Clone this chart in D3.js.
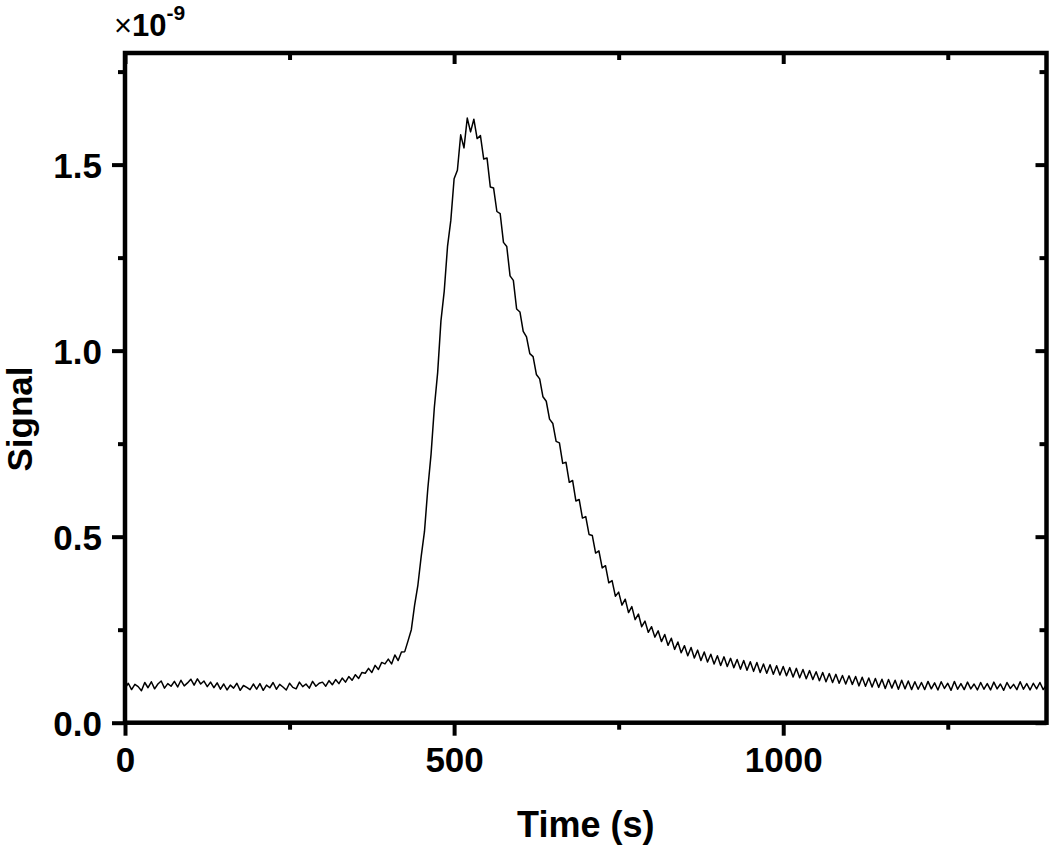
<!DOCTYPE html>
<html>
<head>
<meta charset="utf-8">
<script src="https://cdn.jsdelivr.net/npm/d3@7"></script>
<style>
  html, body { margin: 0; padding: 0; background: #fff; }
  svg { display: block; }
  text { font-family: "Liberation Sans", Arial, sans-serif; fill: #000; }
</style>
</head>
<body>
<svg id="chart" width="1050" height="846"></svg>
<script>
// ---- Data (signal in units of 1e-9, sampled every 5 s) ----
const timeStep = 5;
const signal_0000 = [0.092, 0.106, 0.089, 0.103, 0.097, 0.086, 0.108, 0.094, 0.110, 0.091, 0.104, 0.112, 0.093, 0.105, 0.098, 0.111, 0.096, 0.114, 0.099, 0.107];
const signal_0100 = [0.117, 0.101, 0.118, 0.104, 0.112, 0.097, 0.109, 0.094, 0.107, 0.090, 0.104, 0.088, 0.101, 0.093, 0.106, 0.087, 0.100, 0.095, 0.089, 0.104];
const signal_0200 = [0.090, 0.105, 0.087, 0.101, 0.094, 0.108, 0.090, 0.103, 0.096, 0.088, 0.106, 0.095, 0.091, 0.109, 0.097, 0.104, 0.093, 0.111, 0.098, 0.106];
const signal_0300 = [0.109, 0.098, 0.113, 0.102, 0.116, 0.105, 0.120, 0.109, 0.124, 0.114, 0.129, 0.119, 0.135, 0.133, 0.146, 0.135, 0.154, 0.143, 0.162, 0.158];
const signal_0400 = [0.171, 0.158, 0.182, 0.167, 0.190, 0.191, 0.220, 0.250, 0.316, 0.370, 0.447, 0.514, 0.628, 0.722, 0.848, 0.941, 1.080, 1.160, 1.280, 1.350];
const signal_0500 = [1.462, 1.485, 1.580, 1.545, 1.625, 1.588, 1.622, 1.570, 1.578, 1.515, 1.518, 1.440, 1.437, 1.374, 1.368, 1.291, 1.280, 1.201, 1.189, 1.112];
const signal_0600 = [1.104, 1.052, 1.037, 0.992, 0.984, 0.936, 0.924, 0.876, 0.864, 0.816, 0.804, 0.756, 0.752, 0.697, 0.700, 0.646, 0.651, 0.596, 0.600, 0.550];
const signal_0700 = [0.554, 0.506, 0.503, 0.456, 0.462, 0.416, 0.422, 0.376, 0.382, 0.340, 0.351, 0.316, 0.332, 0.296, 0.312, 0.277, 0.292, 0.258, 0.273, 0.243];
const signal_0800 = [0.258, 0.230, 0.247, 0.218, 0.237, 0.208, 0.227, 0.197, 0.217, 0.188, 0.207, 0.180, 0.202, 0.174, 0.195, 0.167, 0.190, 0.163, 0.184, 0.158];
const signal_0900 = [0.180, 0.154, 0.177, 0.151, 0.173, 0.148, 0.170, 0.144, 0.167, 0.141, 0.164, 0.138, 0.162, 0.135, 0.158, 0.133, 0.156, 0.130, 0.153, 0.128];
const signal_1000 = [0.151, 0.126, 0.148, 0.123, 0.146, 0.121, 0.143, 0.118, 0.140, 0.116, 0.137, 0.113, 0.135, 0.110, 0.132, 0.108, 0.130, 0.106, 0.127, 0.104];
const signal_1100 = [0.126, 0.103, 0.124, 0.099, 0.122, 0.098, 0.120, 0.096, 0.119, 0.095, 0.117, 0.092, 0.116, 0.093, 0.114, 0.090, 0.114, 0.091, 0.112, 0.089];
const signal_1200 = [0.110, 0.090, 0.108, 0.089, 0.111, 0.091, 0.107, 0.088, 0.110, 0.092, 0.106, 0.087, 0.111, 0.090, 0.105, 0.089, 0.109, 0.091, 0.104, 0.088];
const signal_1300 = [0.108, 0.090, 0.105, 0.088, 0.109, 0.091, 0.104, 0.087, 0.108, 0.092, 0.103, 0.089, 0.110, 0.090, 0.105, 0.088, 0.106, 0.091, 0.108, 0.089, 0.102];

const xMajorTicks = [0, 500, 1000];
const xMinorTicks = [250, 750, 1250];
const yMajorTicks = [0.0, 0.5, 1.0, 1.5];
const yMinorTicks = [0.25, 0.75, 1.25, 1.75];
const xDomain = [0, 1400];
const yDomain = [0, 1.8];
const xTitle = "Time (s)";
const yTitle = "Signal";
const multiplierExp = "-9";

// ---- Build series ----
const signalAll = [].concat(signal_0000, signal_0100, signal_0200, signal_0300, signal_0400,
  signal_0500, signal_0600, signal_0700, signal_0800, signal_0900, signal_1000,
  signal_1100, signal_1200, signal_1300);
const data = signalAll.map((v, i) => ({ t: i * timeStep, v: v }));

// ---- Layout ----
const pL = 125, pR = 1046.5, pT = 53, pB = 722.7;
const svg = d3.select("#chart");
const x = d3.scaleLinear().domain(xDomain).range([pL, pR]);
const y = d3.scaleLinear().domain(yDomain).range([pB, pT]);

// data line
const line = d3.line().x(d => x(d.t)).y(d => y(d.v));
svg.append("path").datum(data)
  .attr("d", line)
  .attr("fill", "none")
  .attr("stroke", "#000")
  .attr("stroke-width", 1.5)
  .attr("stroke-linejoin", "round");

const AX_W = 4.5, MAJ = 13, MIN = 7, TW = 4;
const fmtY = d3.format(".1f");

// bottom axis (outward ticks)
const gB = svg.append("g").attr("transform", `translate(0,${pB})`)
  .call(d3.axisBottom(x).tickValues(xMajorTicks).tickSize(MAJ).tickPadding(11).tickFormat(d3.format("d")));
const gBm = svg.append("g").attr("transform", `translate(0,${pB})`)
  .call(d3.axisBottom(x).tickValues(xMinorTicks).tickSize(MIN).tickFormat(""));
// top axis (inward ticks)
const gT = svg.append("g").attr("transform", `translate(0,${pT})`)
  .call(d3.axisBottom(x).tickValues(xMajorTicks).tickSize(MAJ - 2).tickFormat(""));
const gTm = svg.append("g").attr("transform", `translate(0,${pT})`)
  .call(d3.axisBottom(x).tickValues(xMinorTicks).tickSize(MIN).tickFormat(""));
// left axis (outward ticks)
const gL = svg.append("g").attr("transform", `translate(${pL},0)`)
  .call(d3.axisLeft(y).tickValues(yMajorTicks).tickSize(MAJ).tickPadding(10).tickFormat(fmtY));
const gLm = svg.append("g").attr("transform", `translate(${pL},0)`)
  .call(d3.axisLeft(y).tickValues(yMinorTicks).tickSize(MIN).tickFormat(""));
// right axis (inward ticks)
const gR = svg.append("g").attr("transform", `translate(${pR},0)`)
  .call(d3.axisLeft(y).tickValues(yMajorTicks).tickSize(MAJ - 2).tickFormat(""));
const gRm = svg.append("g").attr("transform", `translate(${pR},0)`)
  .call(d3.axisLeft(y).tickValues(yMinorTicks).tickSize(MIN).tickFormat(""));

[gB, gBm, gT, gTm, gL, gLm, gR, gRm].forEach(g => {
  g.select(".domain").remove();
  g.selectAll(".tick line").attr("stroke", "#000").attr("stroke-width", TW);
  g.selectAll(".tick text")
    .style("font-family", "'Liberation Sans', Arial, sans-serif")
    .style("font-weight", "bold")
    .style("font-size", "35px")
    .attr("fill", "#000");
});
gB.selectAll(".tick text").attr("dy", "0.71em");
gL.selectAll(".tick text").attr("dy", "0.36em");

// frame
svg.append("rect")
  .attr("x", pL).attr("y", pT)
  .attr("width", pR - pL).attr("height", pB - pT)
  .attr("fill", "none").attr("stroke", "#000").attr("stroke-width", AX_W);

// axis titles
svg.append("text")
  .attr("x", (pL + pR) / 2).attr("y", 837)
  .attr("text-anchor", "middle")
  .style("font-weight", "bold").style("font-size", "36px")
  .text(xTitle);

svg.append("text")
  .attr("transform", "translate(32,419) rotate(-90)")
  .attr("text-anchor", "middle")
  .style("font-weight", "bold").style("font-size", "35px")
  .text(yTitle);

// multiplier label
const mult = svg.append("text").attr("x", 114).attr("y", 36)
  .style("font-size", "31px");
mult.append("tspan").text("\u00d7").style("font-weight", "normal");
mult.append("tspan").text("10").style("font-weight", "bold");
mult.append("tspan").text(multiplierExp).attr("dy", -16).style("font-size", "21px").style("font-weight", "bold");
</script>
</body>
</html>
